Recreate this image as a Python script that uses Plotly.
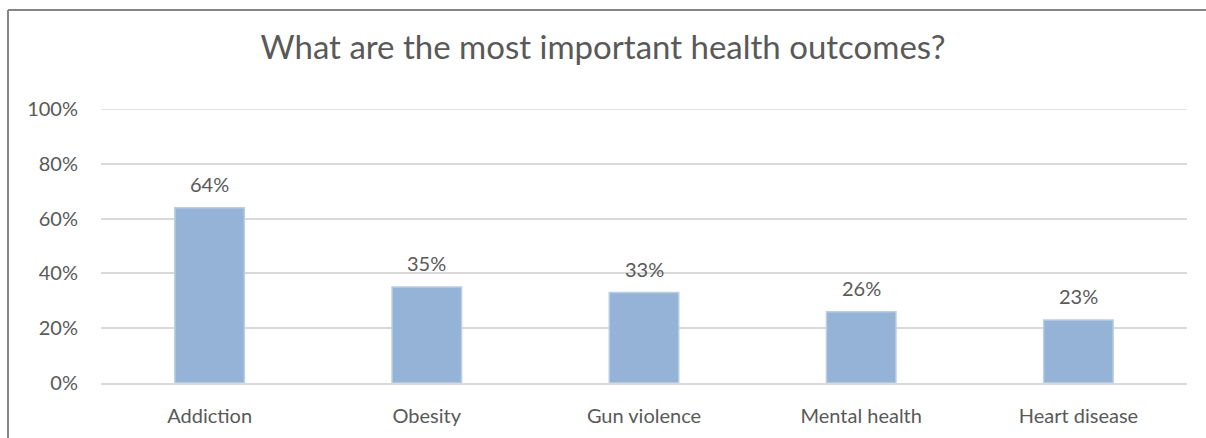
import plotly.graph_objects as go

categories = ["Addiction", "Obesity", "Gun violence", "Mental health", "Heart disease"]
shares = [0.64, 0.35, 0.33, 0.26, 0.23]
tick_values = [0, 0.2, 0.4, 0.6, 0.8, 1.0]
tick_labels = ["0%", "20%", "40%", "60%", "80%", "100%"]
title_text = "What are the most important health outcomes?"

W, H = 1206, 438
L, R, T, B = 101, 19, 109, 55
plot_w = W - L - R
plot_h = H - T - B

FONT = "Lato, Calibri, Carlito, sans-serif"
TEXT_COLOR = "#595959"
GRID_COLOR = "#D9D9D9"

fig = go.Figure(
    go.Bar(
        x=categories,
        y=shares,
        marker=dict(color="#95B3D7", line=dict(color="#B9CDE5", width=1.5)),
        hoverinfo="x+y",
    )
)

# Value labels above each bar
for cat, val in zip(categories, shares):
    fig.add_annotation(
        x=cat, y=val, xref="x", yref="y",
        text=f"{val:.0%}",
        showarrow=False,
        yanchor="bottom",
        yshift=10,
        font=dict(size=20, color=TEXT_COLOR, family=FONT),
    )

# Top gridline sits on the plot edge, so draw it explicitly
fig.add_shape(type="line", xref="paper", yref="y",
              x0=0, x1=1, y0=tick_values[-1], y1=tick_values[-1],
              line=dict(color=GRID_COLOR, width=1.5), layer="below")

# Chart frame: left and top edges of the outer border
def px_to_paper_x(px):
    return (px - L) / plot_w

def px_to_paper_y(py):
    return (H - B - py) / plot_h

frame_color = "#858585"
fig.add_shape(type="line", xref="paper", yref="paper",
              x0=px_to_paper_x(8), x1=px_to_paper_x(W + 5),
              y0=px_to_paper_y(10), y1=px_to_paper_y(10),
              line=dict(color=frame_color, width=2))
fig.add_shape(type="line", xref="paper", yref="paper",
              x0=px_to_paper_x(8), x1=px_to_paper_x(8),
              y0=px_to_paper_y(10), y1=px_to_paper_y(H + 5),
              line=dict(color=frame_color, width=2))

fig.update_layout(
    width=W,
    height=H,
    margin=dict(l=L, r=R, t=T, b=B),
    paper_bgcolor="white",
    plot_bgcolor="white",
    bargap=0.68,
    showlegend=False,
    title=dict(
        text=title_text,
        x=0.5,
        xref="container",
        xanchor="center",
        y=1 - 47 / H,
        yanchor="middle",
        font=dict(size=33, color=TEXT_COLOR, family=FONT),
    ),
    font=dict(family=FONT, color=TEXT_COLOR, size=20),
)

fig.update_xaxes(
    showgrid=False,
    showline=True,
    linecolor=GRID_COLOR,
    linewidth=1.5,
    ticks="",
    tickfont=dict(size=20, color=TEXT_COLOR, family=FONT),
    ticklabelstandoff=14,
)
fig.update_yaxes(
    range=[0, 1.0],
    tickvals=tick_values,
    ticktext=tick_labels,
    showgrid=True,
    gridcolor=GRID_COLOR,
    gridwidth=1.5,
    zeroline=False,
    showline=False,
    ticks="",
    tickfont=dict(size=20, color=TEXT_COLOR, family=FONT),
    ticklabelstandoff=22,
)

fig.write_html("out.html")
